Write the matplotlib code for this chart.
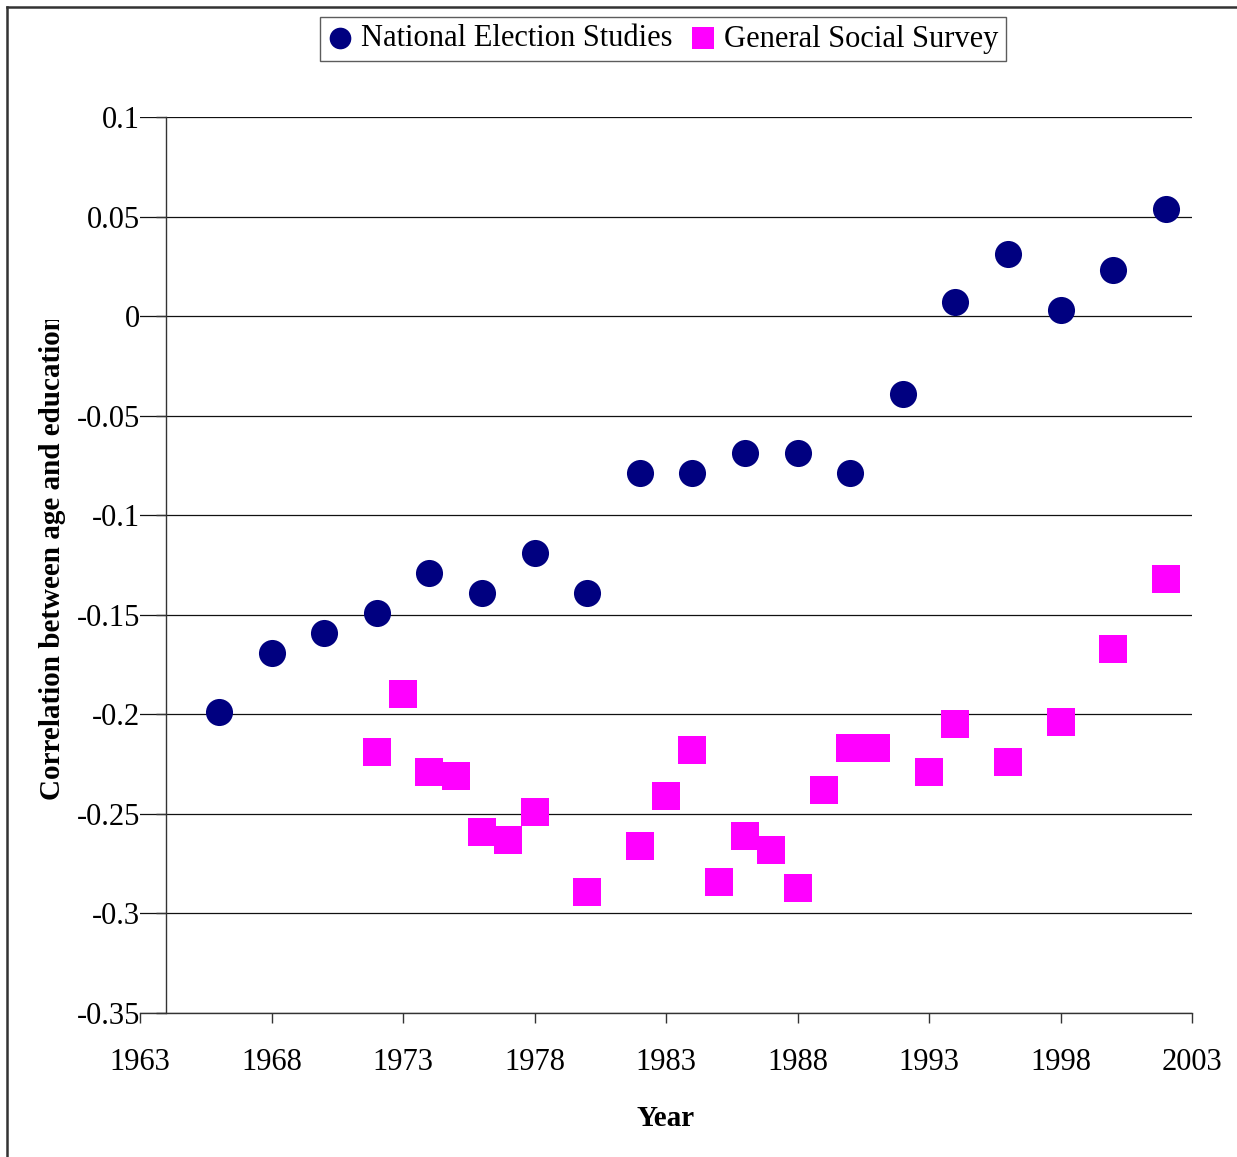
import matplotlib
matplotlib.use('Agg')
import matplotlib.pyplot as plt
from matplotlib.lines import Line2D
from matplotlib.transforms import Bbox, TransformedBbox

# National Election Studies
nes_years = [1966, 1968, 1970, 1972, 1974, 1976, 1978, 1980, 1982, 1984,
             1986, 1988, 1990, 1992, 1994, 1996, 1998, 2000, 2002]
nes_corr = [-0.199, -0.169, -0.159, -0.149, -0.129, -0.139, -0.119, -0.139, -0.079, -0.079,
            -0.069, -0.069, -0.079, -0.039, 0.007, 0.031, 0.003, 0.023, 0.054]

# General Social Survey
gss_years = [1972, 1973, 1974, 1975, 1976, 1977, 1978, 1980, 1982, 1983, 1984, 1985,
             1986, 1987, 1988, 1989, 1990, 1991, 1993, 1994, 1996, 1998, 2000, 2002]
gss_corr = [-0.219, -0.190, -0.229, -0.231, -0.259, -0.263, -0.249, -0.289, -0.266, -0.241,
            -0.218, -0.284, -0.261, -0.268, -0.287, -0.238, -0.217, -0.217, -0.229, -0.205,
            -0.224, -0.204, -0.167, -0.132]

x_ticks = [1963, 1968, 1973, 1978, 1983, 1988, 1993, 1998, 2003]
y_ticks = [0.1, 0.05, 0, -0.05, -0.1, -0.15, -0.2, -0.25, -0.3, -0.35]
y_tick_labels = ['0.1', '0.05', '0', '-0.05', '-0.1', '-0.15', '-0.2', '-0.25', '-0.3', '-0.35']

plt.rcParams['font.family'] = ['Liberation Serif', 'DejaVu Serif']

W, H = 1237, 1157
fig = plt.figure(figsize=(W / 100, H / 100), dpi=100)
ax = fig.add_axes([140 / W, 1 - 1013 / H, (1192 - 140) / W, (1013 - 117) / H])

ax.scatter(nes_years, nes_corr, s=19.5 ** 2, marker='o', color='#000080',
           linewidths=0, label='National Election Studies', zorder=3, clip_on=False)
ax.scatter(gss_years, gss_corr, s=19.5 ** 2, marker='s', color='#FF00FF',
           linewidths=0, label='General Social Survey', zorder=3, clip_on=False)

ax.set_xlim(1963, 2003)
ax.set_ylim(-0.35, 0.1)
ax.set_xticks(x_ticks)
ax.set_yticks(y_ticks)
ax.set_yticklabels(y_tick_labels)

for s in ['top', 'right']:
    ax.spines[s].set_visible(False)
ax.spines['left'].set_position(('data', 1964))
ax.spines['left'].set_color('#333333')
ax.spines['bottom'].set_color('#333333')
ax.spines['left'].set_linewidth(1.0)
ax.spines['bottom'].set_linewidth(1.0)

ax.yaxis.grid(True, color='#111111', linewidth=0.9)
ax.set_axisbelow(True)

ax.tick_params(axis='x', direction='out', length=7, width=1, color='#333333',
               labelsize=22, pad=18.5)
ax.tick_params(axis='y', direction='out', length=7, width=1, color='#333333',
               labelsize=22, pad=12)

ax.set_xlabel('Year', fontsize=21, fontweight='bold', labelpad=20)

# y title, clipped at the top like the original
yl = fig.text(52 / W, 1 - 800 / H, 'Correlation between age and education',
              rotation=90, ha='center', va='bottom', fontsize=21, fontweight='bold')
yl.set_clip_box(TransformedBbox(Bbox([[0, 0], [1, 1 - 320 / H]]), fig.transFigure))
yl.set_clip_on(True)

leg = fig.legend(loc='center', bbox_to_anchor=(663 / W, 1 - 39 / H), ncol=2,
                 fontsize=22, frameon=True, fancybox=False, markerscale=0.8,
                 handlelength=0.8, handletextpad=0.3, columnspacing=0.6,
                 borderpad=0.25, borderaxespad=0)
leg.get_frame().set_edgecolor('#333333')
leg.get_frame().set_linewidth(1.0)

# chart area border (left and top visible)
fig.add_artist(Line2D([7 / W, 7 / W], [0, 1 - 7 / H], transform=fig.transFigure,
                      color='#333333', linewidth=1.8))
fig.add_artist(Line2D([7 / W, 1], [1 - 7 / H, 1 - 7 / H], transform=fig.transFigure,
                      color='#333333', linewidth=1.8))

fig.savefig('out.png', dpi=100)
